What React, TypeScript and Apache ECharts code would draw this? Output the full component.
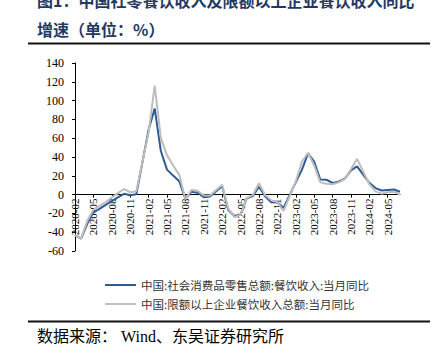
import React, { useEffect, useRef } from "react";
import * as echarts from "echarts";

const categories = [
  "2020-02", "2020-03", "2020-04", "2020-05", "2020-06", "2020-07", "2020-08", "2020-09", "2020-10", "2020-11", "2020-12",
  "2021-01", "2021-02", "2021-03", "2021-04", "2021-05", "2021-06", "2021-07", "2021-08", "2021-09", "2021-10", "2021-11", "2021-12",
  "2022-01", "2022-02", "2022-03", "2022-04", "2022-05", "2022-06", "2022-07", "2022-08", "2022-09", "2022-10", "2022-11", "2022-12",
  "2023-01", "2023-02", "2023-03", "2023-04", "2023-05", "2023-06", "2023-07", "2023-08", "2023-09", "2023-10", "2023-11", "2023-12",
  "2024-01", "2024-02", "2024-03", "2024-04", "2024-05", "2024-06", "2024-07",
];

const retailCatering: (number | null)[] = [
  -43.1, -46.8, -31.1, -18.9, -15.2, -11.0, -7.0, -2.9, 0.8, -0.6, 0.4,
  null, 68.9, 91.6, 46.4, 26.6, 20.2, 14.3, -4.5, 3.1, 2.0, -2.7, -2.0,
  null, 8.9, -16.4, -22.7, -21.1, -4.0, -1.5, 8.4, -1.7, -8.1, -8.4, -14.1,
  null, 13.0, 26.3, 43.8, 35.1, 16.1, 15.8, 12.4, 13.8, 17.1, 25.8, 30.0,
  null, 12.5, 6.9, 4.4, 5.0, 5.4, 3.0,
];

const aboveLimitCatering: (number | null)[] = [
  -43.0, -46.5, -28.0, -16.0, -12.0, -8.0, -3.0, 1.5, 6.0, 2.5, 3.5,
  null, 66.0, 116.0, 60.0, 42.0, 31.0, 21.0, -5.0, 5.0, 4.0, -1.0, -1.0,
  null, 10.5, -15.0, -24.0, -21.5, -3.5, -0.5, 12.0, -0.5, -6.0, -8.0, -17.5,
  null, 14.0, 35.0, 44.5, 31.0, 13.0, 11.5, 11.0, 13.0, 16.5, 27.0, 38.0,
  null, 11.0, 3.5, 1.0, 2.5, 3.0, 0.0,
];

const seriesNames = [
  "中国:社会消费品零售总额:餐饮收入:当月同比",
  "中国:限额以上企业餐饮收入总额:当月同比",
];

const titleLine1 = "图1：中国社零餐饮收入及限额以上企业餐饮收入同比";
const titleLine2 = "增速（单位：%）";
const sourceText = "数据来源： Wind、东吴证券研究所";

const Y_MIN = -60;
const Y_MAX = 140;
const GRID_TOP = 63;
const GRID_BOTTOM = 104;
const PLOT_H = 355 - GRID_TOP - GRID_BOTTOM;
const ZERO_OFFSET = -(PLOT_H * (0 - Y_MIN)) / (Y_MAX - Y_MIN);

export default function App() {
  const ref = useRef<HTMLDivElement>(null);
  useEffect(() => {
    if (!ref.current) return;
    const chart = echarts.init(ref.current, null, { renderer: "svg" });
    chart.setOption({
      animation: false,
      backgroundColor: "#ffffff",
      grid: { left: 75, right: 37, top: GRID_TOP, bottom: GRID_BOTTOM, containLabel: false },
      legend: {
        orient: "vertical",
        left: 100,
        top: 273,
        itemWidth: 31,
        itemHeight: 2,
        itemGap: 5,
        icon: "rect",
        textStyle: { fontFamily: '"Noto Sans CJK SC"', fontSize: 11.5, color: "#333", lineHeight: 14 },
        data: seriesNames,
      },
      xAxis: {
        type: "category",
        data: categories,
        boundaryGap: false,
        position: "bottom",
        offset: ZERO_OFFSET,
        axisLine: { onZero: false, lineStyle: { color: "#000", width: 1 } },
        axisTick: { show: true, interval: 2, length: 3, lineStyle: { color: "#000" } },
        axisLabel: {
          interval: 2,
          rotate: 90,
          margin: 4,
          fontFamily: '"Liberation Serif"',
          fontSize: 11,
          color: "#000",
        },
        splitLine: { show: false },
      },
      yAxis: {
        type: "value",
        min: Y_MIN,
        max: Y_MAX,
        interval: 20,
        axisLine: { show: true, lineStyle: { color: "#000", width: 1 } },
        axisTick: { show: true, length: 3, lineStyle: { color: "#000" } },
        axisLabel: { margin: 11, fontFamily: '"Liberation Serif"', fontSize: 12, color: "#000" },
        splitLine: { show: false },
      },
      series: [
        {
          name: seriesNames[0],
          type: "line",
          data: retailCatering,
          connectNulls: true,
          symbol: "none",
          lineStyle: { color: "#2F5A96", width: 2 },
          itemStyle: { color: "#2F5A96" },
        },
        {
          name: seriesNames[1],
          type: "line",
          data: aboveLimitCatering,
          connectNulls: true,
          symbol: "none",
          lineStyle: { color: "#BDBDBD", width: 2 },
          itemStyle: { color: "#BDBDBD" },
        },
      ],
      graphic: [
        {
          type: "text",
          x: 37,
          y: 0,
          style: {
            text: titleLine1,
            font: 'bold 16px "Noto Sans CJK SC"',
            fill: "#1F3864",
            textVerticalAlign: "middle",
          },
        },
        {
          type: "text",
          x: 37,
          y: 29,
          style: {
            text: titleLine2,
            font: 'bold 16px "Noto Sans CJK SC"',
            fill: "#1F3864",
            textVerticalAlign: "middle",
          },
        },
        {
          type: "line",
          shape: { x1: 28, y1: 43.5, x2: 430, y2: 43.5 },
          style: { stroke: "#111", lineWidth: 2 },
        },
        {
          type: "line",
          shape: { x1: 28, y1: 321.5, x2: 430, y2: 321.5 },
          style: { stroke: "#111", lineWidth: 2 },
        },
        {
          type: "text",
          x: 37,
          y: 336,
          style: {
            text: sourceText,
            font: '16px "Liberation Serif", "Noto Sans CJK SC"',
            fill: "#000",
            textVerticalAlign: "middle",
          },
        },
      ],
    });
    return () => chart.dispose();
  }, []);
  return (
    <div
      ref={ref}
      style={{ position: "fixed", left: 0, top: 0, width: 437, height: 355, background: "#fff" }}
    />
  );
}
